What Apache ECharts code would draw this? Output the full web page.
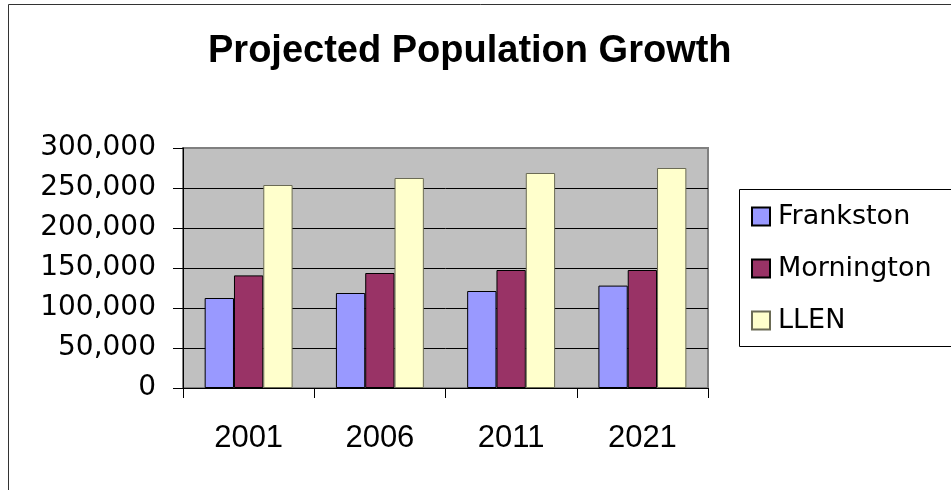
<!DOCTYPE html>
<html>
<head>
<meta charset="utf-8">
<script src="https://cdn.jsdelivr.net/npm/echarts@6/dist/echarts.min.js"></script>
<style>html,body{margin:0;padding:0;background:#fff;}#c{width:951px;height:490px;}</style>
</head>
<body>
<div id="c"></div>
<script>
const categories = ['2001', '2006', '2011', '2021'];
const seriesNames = ['Frankston', 'Mornington', 'LLEN'];
const frankston = [112500, 118750, 121250, 128000];
const mornington = [140750, 143750, 147500, 147500];
const llen = [253750, 262500, 268750, 275000];
const yTicks = [0, 50000, 100000, 150000, 200000, 250000, 300000];

const chart = echarts.init(document.getElementById('c'), null, {renderer: 'canvas'});
const fmt = v => String(v).replace(/\B(?=(\d{3})+(?!\d))/g, ',');
const colors = ['#9999FF', '#993366', '#FFFFCC'];
const borders = ['#000000', '#000000', '#6b6b55'];
const values = [frankston, mornington, llen];

chart.setOption({
  animation: false,
  backgroundColor: '#ffffff',
  title: {
    text: 'Projected Population Growth',
    left: 203, top: 28,
    textStyle: {fontFamily: 'Liberation Sans, Arial', fontWeight: 'bold', fontSize: 38, color: '#000'}
  },
  legend: {
    orient: 'vertical',
    left: 746, top: 198,
    itemWidth: 18, itemHeight: 18,
    itemGap: 25,
    icon: 'rect',
    data: seriesNames,
    textStyle: {fontFamily: 'DejaVu Sans', fontSize: 27, color: '#000', padding: [0, 0, 0, 3]}
  },
  grid: {
    left: 183, top: 148, width: 525, height: 240,
    show: true, backgroundColor: '#C0C0C0', borderColor: '#808080', borderWidth: 2
  },
  xAxis: {
    type: 'category',
    data: categories,
    axisLine: {show: true, lineStyle: {color: '#000', width: 1}},
    axisTick: {show: true, length: 10, alignWithLabel: false, lineStyle: {color: '#000'}},
    axisLabel: {fontFamily: 'Liberation Sans, Arial', fontSize: 31, color: '#000', margin: 35},
    splitLine: {show: false}
  },
  yAxis: {
    type: 'value',
    min: yTicks[0], max: yTicks[yTicks.length - 1], interval: yTicks[1] - yTicks[0],
    axisLine: {show: true, lineStyle: {color: '#000', width: 1}},
    axisTick: {show: true, length: 10, lineStyle: {color: '#000'}},
    axisLabel: {fontFamily: 'DejaVu Sans', fontSize: 28, color: '#000', margin: 27, formatter: fmt},
    splitLine: {show: true, showMaxLine: false, lineStyle: {color: '#000', width: 1}}
  },
  series: seriesNames.map((name, i) => ({
    name: name,
    type: 'bar',
    data: values[i],
    barGap: '0%',
    barCategoryGap: '33%',
    itemStyle: {color: colors[i], borderColor: borders[i], borderWidth: 1}
  })),
  graphic: [
    {type: 'rect', silent: true, z: 100,
     shape: {x: 8.5, y: 4.5, width: 1200, height: 1200},
     style: {fill: 'none', stroke: '#333', lineWidth: 1}},
    {type: 'rect', silent: true, z: 100,
     shape: {x: 739.5, y: 189.5, width: 400, height: 157},
     style: {fill: 'none', stroke: '#000', lineWidth: 1}}
  ]
});
</script>
</body>
</html>
